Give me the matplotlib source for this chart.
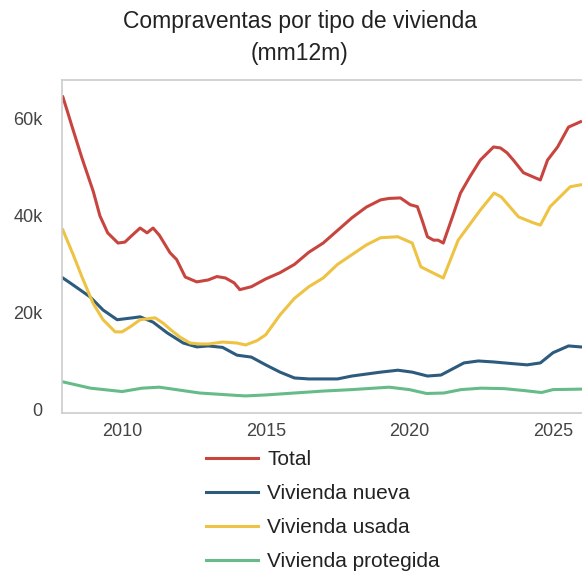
import matplotlib
matplotlib.use("Agg")
import matplotlib.pyplot as plt
from matplotlib.ticker import FuncFormatter

plt.rcParams['font.family'] = ['Liberation Sans', 'DejaVu Sans']

title = "Compraventas por tipo de vivienda\n(mm12m)"

total_x = [2007.94, 2008.1, 2008.26, 2008.6, 2009.0, 2009.23, 2009.5, 2009.86, 2010.1, 2010.35,
           2010.63, 2010.87, 2011.08, 2011.3, 2011.67, 2011.9, 2012.2, 2012.6, 2013.0, 2013.3,
           2013.6, 2013.9, 2014.1, 2014.5, 2015.0, 2015.5, 2016.0, 2016.5, 2017.0, 2017.5,
           2018.0, 2018.5, 2019.0, 2019.3, 2019.69, 2020.03, 2020.28, 2020.45, 2020.63, 2020.84,
           2021.0, 2021.18, 2021.5, 2021.78, 2022.1, 2022.47, 2022.93, 2023.17, 2023.4, 2023.62,
           2023.97, 2024.32, 2024.56, 2024.81, 2025.16, 2025.54, 2025.96]
total_y = [64.5, 61.5, 58.4, 52.0, 45.0, 40.0, 36.5, 34.4, 34.6, 36.0,
           37.5, 36.5, 37.5, 36.0, 32.4, 31.0, 27.4, 26.4, 26.8, 27.5,
           27.2, 26.2, 24.8, 25.4, 27.0, 28.3, 30.0, 32.5, 34.4, 37.0,
           39.6, 41.8, 43.3, 43.6, 43.7, 42.3, 41.9, 39.0, 35.7, 35.0,
           35.0, 34.4, 39.8, 44.7, 48.0, 51.5, 54.2, 54.0, 53.0, 51.5,
           48.9, 48.0, 47.4, 51.5, 54.2, 58.3, 59.4]

nueva_x = [2007.94, 2008.19, 2008.6, 2008.89, 2009.34, 2009.83, 2010.38, 2010.63, 2011.08, 2011.57,
           2012.13, 2012.6, 2013.0, 2013.5, 2014.0, 2014.5, 2015.0, 2015.5, 2016.0, 2016.5,
           2017.5, 2018.0, 2018.5, 2019.0, 2019.6, 2020.1, 2020.63, 2021.1, 2021.9, 2022.4,
           2022.93, 2023.5, 2024.1, 2024.56, 2025.0, 2025.54, 2025.96]
nueva_y = [27.2, 26.2, 24.5, 23.3, 20.6, 18.6, 19.0, 19.2, 18.1, 15.9,
           13.8, 13.0, 13.2, 12.9, 11.3, 10.9, 9.3, 7.8, 6.6, 6.4,
           6.4, 7.0, 7.4, 7.8, 8.2, 7.8, 7.0, 7.2, 9.7, 10.1,
           9.9, 9.6, 9.3, 9.7, 11.8, 13.2, 13.0]

usada_x = [2007.94, 2008.3, 2008.6, 2008.99, 2009.34, 2009.76, 2010.0, 2010.3, 2010.63, 2010.9,
           2011.15, 2011.43, 2011.7, 2012.02, 2012.37, 2012.72, 2013.0, 2013.5, 2014.0, 2014.3,
           2014.7, 2015.0, 2015.5, 2016.0, 2016.5, 2017.0, 2017.5, 2018.0, 2018.5, 2019.0,
           2019.6, 2020.1, 2020.4, 2020.84, 2021.18, 2021.5, 2021.7, 2022.47, 2022.95, 2023.2,
           2023.8, 2024.3, 2024.56, 2024.9, 2025.6, 2025.96]
usada_y = [37.1, 32.0, 27.5, 22.0, 18.6, 16.1, 16.1, 17.2, 18.6, 18.8,
           19.0, 17.9, 16.5, 15.0, 13.8, 13.6, 13.6, 14.0, 13.8, 13.4,
           14.3, 15.5, 19.6, 23.0, 25.4, 27.2, 30.0, 32.0, 34.0, 35.5,
           35.7, 34.4, 29.5, 28.2, 27.2, 32.0, 35.0, 41.2, 44.7, 43.9,
           39.8, 38.6, 38.1, 41.9, 46.0, 46.4]

protegida_x = [2007.94, 2008.9, 2010.0, 2010.7, 2011.3, 2012.7, 2014.0, 2014.3, 2015.0, 2016.0,
               2017.0, 2018.0, 2019.3, 2020.0, 2020.6, 2021.2, 2021.8, 2022.5, 2023.3, 2024.0,
               2024.6, 2025.0, 2025.96]
protegida_y = [5.8, 4.5, 3.8, 4.5, 4.7, 3.5, 3.0, 2.9, 3.1, 3.5,
               3.9, 4.2, 4.7, 4.2, 3.4, 3.5, 4.2, 4.5, 4.4, 4.0,
               3.6, 4.2, 4.3]

series = [
    ("Total", total_x, total_y, "#c8453f"),
    ("Vivienda nueva", nueva_x, nueva_y, "#2d5b7d"),
    ("Vivienda usada", usada_x, usada_y, "#eec344"),
    ("Vivienda protegida", protegida_x, protegida_y, "#66bb88"),
]

fig = plt.figure(figsize=(5.82, 5.74), dpi=100)
ax = fig.add_axes([62 / 582, 1 - 413 / 574, 530 / 582, 333 / 574])

for name, xs, ys, color in series:
    ax.plot(xs, [v * 1000 for v in ys], color=color, lw=2.2, label=name)

ax.set_xlim(2007.91, 2007.91 + 530 / 28.73)
ax.set_ylim(-620, 68000)
ax.set_xticks([2010, 2015, 2020, 2025])
ax.set_yticks([0, 20000, 40000, 60000])
ax.yaxis.set_major_formatter(FuncFormatter(lambda v, p: "0" if v == 0 else f"{int(v / 1000)}k"))
ax.tick_params(length=0, labelsize=13, colors="#444444")
ax.tick_params(axis="y", pad=14)
ax.tick_params(axis="x", pad=7.5)
for s in ax.spines.values():
    s.set_color("#cccccc")
    s.set_linewidth(1.2)

fig.text(300 / 582, 1 - 10 / 574, title, ha="center", va="top", fontsize=16.5,
         color="#222222", linespacing=1.48)

fig.legend(loc="upper left", bbox_to_anchor=(206 / 582, 1 - 450 / 574), frameon=False,
           fontsize=15, handlelength=2.5, handletextpad=0.45, labelspacing=0.72,
           borderpad=0, borderaxespad=0, labelcolor="#222222")

fig.savefig("out.png", dpi=100)
